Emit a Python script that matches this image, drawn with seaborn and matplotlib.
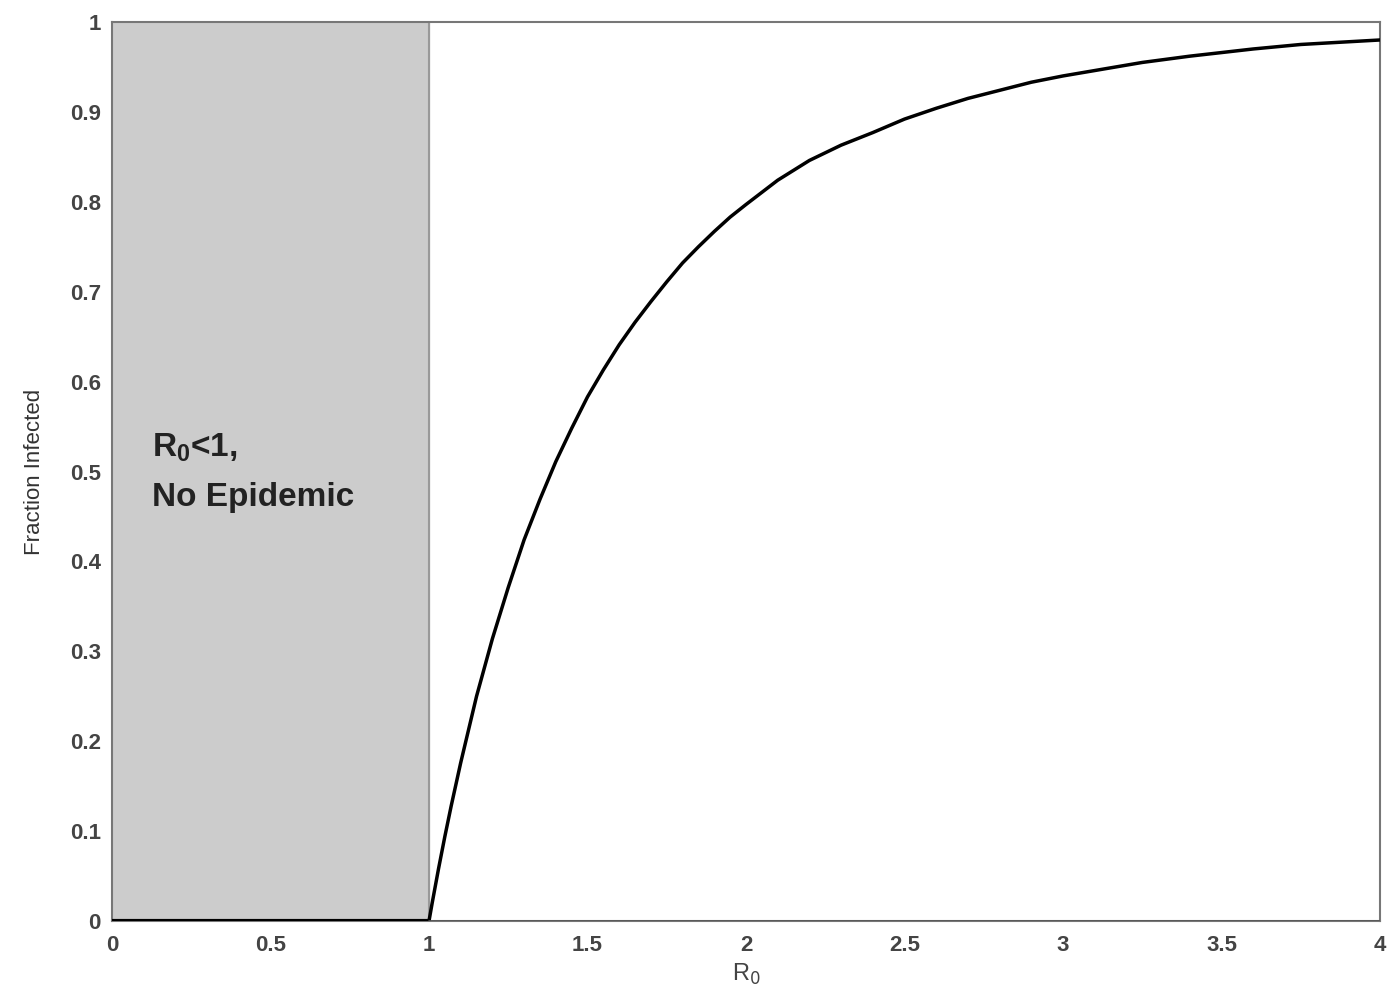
import matplotlib
matplotlib.use("Agg")
import matplotlib.pyplot as plt
import seaborn as sns
import pandas as pd

# Values
r0_epidemic = [1.0, 1.01, 1.02, 1.03, 1.05, 1.07, 1.1, 1.15, 1.2, 1.25, 1.3, 1.35, 1.4, 1.45,
               1.5, 1.55, 1.6, 1.65, 1.7, 1.75, 1.8, 1.85, 1.9, 1.95, 2.0, 2.1, 2.2, 2.3,
               2.4, 2.5, 2.6, 2.7, 2.8, 2.9, 3.0, 3.1, 3.25, 3.4, 3.5, 3.6, 3.75, 3.9, 4.0]
frac_epidemic = [0.0, 0.020, 0.039, 0.058, 0.094, 0.128, 0.176, 0.250, 0.314, 0.371, 0.424,
                 0.469, 0.511, 0.548, 0.583, 0.613, 0.641, 0.666, 0.689, 0.711, 0.732, 0.750,
                 0.767, 0.783, 0.797, 0.824, 0.846, 0.863, 0.877, 0.892, 0.904, 0.915, 0.924,
                 0.933, 0.940, 0.946, 0.955, 0.962, 0.966, 0.970, 0.975, 0.978, 0.980]
r0_trivial = [0.0, 1.0]
frac_trivial = [0.0, 0.0]
r0_trivial_ext = [1.0, 4.0]
frac_trivial_ext = [0.0, 0.0]

x_ticks = [0, 0.5, 1, 1.5, 2, 2.5, 3, 3.5, 4]
x_labels = ["0", "0.5", "1", "1.5", "2", "2.5", "3", "3.5", "4"]
y_ticks = [0, 0.1, 0.2, 0.3, 0.4, 0.5, 0.6, 0.7, 0.8, 0.9, 1]
y_labels = ["0", "0.1", "0.2", "0.3", "0.4", "0.5", "0.6", "0.7", "0.8", "0.9", "1"]

sns.set_style("white")
plt.rcParams['font.family'] = ['Liberation Sans', 'DejaVu Sans']

fig = plt.figure(figsize=(13.92, 9.9), dpi=100)
ax = fig.add_axes([112/1392, 69/990, 1268/1392, 899/990])

ax.axvspan(0, 1, color="#cccccc", zorder=0)
ax.axvline(1, color="#999999", lw=1.5, zorder=1)

df = pd.DataFrame({"R0": r0_epidemic, "frac": frac_epidemic})
sns.lineplot(data=df, x="R0", y="frac", color="black", lw=2.5, ax=ax, zorder=3)
sns.lineplot(x=r0_trivial, y=frac_trivial, color="black", lw=3, ax=ax, zorder=3)
sns.lineplot(x=r0_trivial_ext, y=frac_trivial_ext, color="#555555", lw=1.2, ax=ax, zorder=3)

ax.set_xlim(0, 4)
ax.set_ylim(0, 1)
ax.set_xticks(x_ticks)
ax.set_xticklabels(x_labels)
ax.set_yticks(y_ticks)
ax.set_yticklabels(y_labels)
ax.tick_params(direction="in", length=5, width=1, color="#777777",
               labelsize=16, labelcolor="#444444")
ax.tick_params(axis="x", pad=10)
ax.tick_params(axis="y", pad=8)
for lab in ax.get_xticklabels() + ax.get_yticklabels():
    lab.set_fontweight("bold")

for s in ax.spines.values():
    s.set_visible(True)
    s.set_color("#777777")
    s.set_linewidth(1.5)

ax.set_xlabel(r"R$_0$", fontsize=17, color="#444444", labelpad=4)
ax.set_ylabel("Fraction Infected", fontsize=16, color="#333333", labelpad=18)

ax.text(0.125, 0.545, r"R$_\mathregular{0}$<1," + "\nNo Epidemic", fontsize=24,
        fontweight="bold", color="#222222", va="top", ha="left", linespacing=1.75)

fig.savefig("out.png", dpi=100)
